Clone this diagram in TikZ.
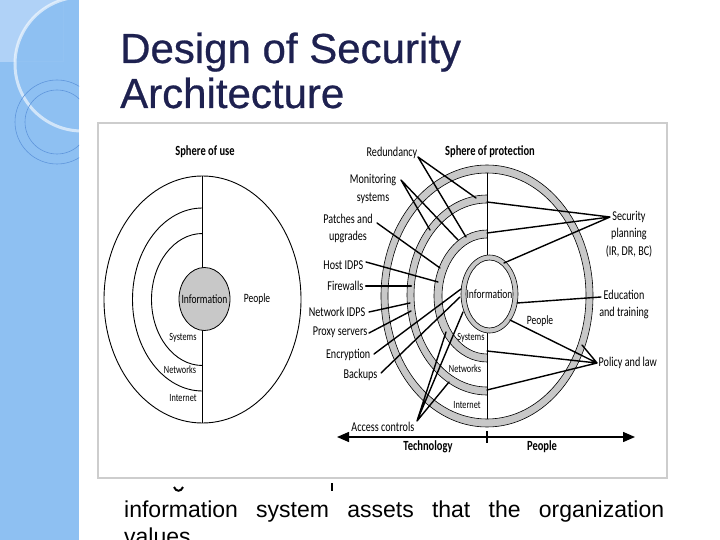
\documentclass[tikz,border=0pt]{standalone}
\usepackage{fontspec}
\usetikzlibrary{arrows.meta}
\newfontfamily\arialf{Liberation Sans}
\newfontfamily\titlef[FakeBold=0.6]{Liberation Sans}
\newfontfamily\cond[FakeStretch=0.75]{Carlito}
\definecolor{stripblue}{RGB}{142,192,242}
\definecolor{stripl}{RGB}{176,210,247}
\definecolor{thinblue}{RGB}{95,150,220}
\definecolor{titlenavy}{RGB}{30,33,80}
\definecolor{bandgray}{RGB}{200,200,200}
\definecolor{boxgray}{RGB}{205,205,205}
\begin{document}
\begin{tikzpicture}[x=1pt,y=-1pt,
  lbl/.style={font=\cond\fontsize{13.5}{17.5}\selectfont, inner sep=0.5pt, align=center},
  sml/.style={font=\cond\fontsize{11}{12}\selectfont, inner sep=0.5pt},
  mid/.style={font=\cond\fontsize{12.7}{13}\selectfont, inner sep=0.5pt},
  hd/.style={font=\cond\bfseries\fontsize{14}{15}\selectfont, inner sep=0.5pt},
  conn/.style={line width=1.4pt, line cap=round},
  band/.style={fill=bandgray, draw=black, line width=0.6pt, even odd rule},
  thin/.style={line width=0.9pt},
  ttl/.style={anchor=base west, inner sep=0, text=titlenavy, font=\titlef\fontsize{42}{46}\selectfont},
  body/.style={anchor=base west, inner sep=0, font=\arialf\fontsize{23}{27}\selectfont}]
\useasboundingbox (0,0) rectangle (720,540);
\fill[white] (0,0) rectangle (720,540);
% ---- left decorative strip
\fill[stripblue] (0,0) rectangle (79,540);
\begin{scope}
  \clip (0,0) rectangle (63,62);
  \fill[stripl, even odd rule] (0,0) rectangle (63,62) (82,64) circle (67);
\end{scope}
\begin{scope}
  \clip (0,0) rectangle (79,540);
  \draw[white, opacity=0.6, line width=3pt] (82,64) circle (67);
  \draw[thinblue, line width=0.6pt] (57,122) circle (42) (57,122) circle (32);
\end{scope}
% ---- title
\node[ttl] (t1) at (120,63) {Design of Security};
\node[ttl] (t2) at (120,108) {Architecture};
% ---- body text
\draw[line width=2pt] (174,487) .. controls (176,492) and (181,492) .. (183,487);
\draw[line width=1.6pt] (332,483) -- (332,491);
\node[body] (b1) at (124,517) {\hbox to 540pt{information\hfill system\hfill assets\hfill that\hfill the\hfill organization}};
\node[body] (b2) at (124,544) {values};
% ---- picture box
\draw[boxgray, line width=1.5pt, fill=white] (98,123) rectangle (667,478);
% ---- sphere of use
\node[hd] (su) at (205,152) {Sphere of use};
\draw[thin] (202.5,299.5) ellipse [x radius=98.5, y radius=123.5];
\begin{scope}
  \clip (90,150) rectangle (202.5,440);
  \draw[thin] (202.5,299.5) ellipse [x radius=70, y radius=91.5];
  \draw[thin] (202.5,299.5) ellipse [x radius=51, y radius=66];
\end{scope}
\draw[line width=1.2pt] (202.5,176) -- (202.5,423);
\filldraw[fill=bandgray, draw=black, line width=0.8pt] (204.5,299) ellipse [x radius=25.5, y radius=31.5];
\node[mid] (linfo) at (204.5,299) {Information};
\node[mid] (lpeople) at (257,299) {People};
\node[sml] (lsys) at (183,338) {Systems};
\node[sml] (lnet) at (180,370) {Networks};
\node[sml] (lint) at (183,398) {Internet};
% ---- sphere of protection
\node[hd] (sp) at (490,152) {Sphere of protection};
\path[band] (487,296) ellipse [x radius=106, y radius=131] (487,296) ellipse [x radius=99, y radius=123];
\begin{scope}
  \clip (370,150) rectangle (487,440);
  \path[band] (487,295) ellipse [x radius=80, y radius=100] (487,295) ellipse [x radius=73, y radius=92];
  \path[band] (487,296) ellipse [x radius=53, y radius=66] (487,296) ellipse [x radius=45, y radius=58];
\end{scope}
\draw[line width=1pt] (487,173) -- (487,256) (487,332) -- (487,419);
\path[band] (489.5,294) ellipse [x radius=28.5, y radius=39] (489.5,294) ellipse [x radius=23.5, y radius=34];
\node[mid] (rinfo) at (489.5,294) {Information};
\node[mid] (rpeople) at (540,321) {People};
\node[sml] (rsys) at (471,338) {Systems};
\node[sml] (rnet) at (465,369) {Networks};
\node[sml] (rint) at (467,405) {Internet};
% ---- labels
\node[lbl, anchor=east] (red) at (418,153) {Redundancy};
\node[lbl] (mon) at (373,189) {Monitoring\\systems};
\node[lbl] (pat) at (348,228.5) {Patches and\\upgrades};
\node[lbl, anchor=east] (host) at (364,265) {Host IDPS};
\node[lbl, anchor=east] (fire) at (364,286) {Firewalls};
\node[lbl, anchor=east] (nids) at (366,312) {Network IDPS};
\node[lbl, anchor=east] (prox) at (368,332) {Proxy servers};
\node[lbl, anchor=east] (enc) at (371,355) {Encryption};
\node[lbl, anchor=east] (back) at (378,375) {Backups};
\node[lbl, anchor=east] (acc) at (415,427) {Access controls};
\node[lbl] (sec) at (629,234) {Security\\planning\\(IR, DR, BC)};
\node[lbl] (edu) at (624,304.5) {Education\\and training};
\node[lbl, anchor=west] (pol) at (598,363) {Policy and law};
% ---- connector points
\coordinate (redS) at (418,157);
\coordinate (redA) at (476,198);
\coordinate (redB) at (466,237);
\coordinate (monS) at (401,180);
\coordinate (monA) at (430,230);
\coordinate (monB) at (458,240);
\coordinate (patS) at (377,223);
\coordinate (patE) at (440,268);
\coordinate (hostS) at (366,262);
\coordinate (hostE) at (438,282);
\coordinate (fireS) at (366,286);
\coordinate (fireE) at (411,286);
\coordinate (nidsS) at (369,312);
\coordinate (nidsE) at (410,303);
\coordinate (proxS) at (369,333);
\coordinate (proxE) at (411,311);
\coordinate (encS) at (374,354);
\coordinate (encE) at (461,289);
\coordinate (backS) at (381,373);
\coordinate (backE) at (460,297);
\coordinate (accS) at (417,421);
\coordinate (accA) at (446,332);
\coordinate (accB) at (463,312);
\coordinate (accC) at (449,382);
\coordinate (secS) at (610,217);
\coordinate (secA) at (487,202);
\coordinate (secB) at (487,233);
\coordinate (secC) at (504,263);
\coordinate (eduS) at (601,297);
\coordinate (eduE) at (517,303);
\coordinate (polS) at (597,363);
\coordinate (polA) at (510,320);
\coordinate (polB) at (487,351);
\coordinate (polC) at (487,390);
\coordinate (polD) at (582,345);
% ---- connectors
\draw[conn] (redS) -- (redA) (redS) -- (redB);
\draw[conn] (monS) -- (monA) (monS) -- (monB);
\draw[conn] (patS) -- (patE);
\draw[conn] (hostS) -- (hostE);
\draw[conn, line width=2.4pt] (fireS) -- (fireE);
\draw[conn] (nidsS) -- (nidsE);
\draw[conn] (proxS) -- (proxE);
\draw[conn] (encS) -- (encE);
\draw[conn] (backS) -- (backE);
\draw[conn] (accS) -- (accA) (accS) -- (accB) (accS) -- (accC);
\draw[conn] (secS) -- (secA) (secS) -- (secB) (secS) -- (secC);
\draw[conn] (eduS) -- (eduE);
\draw[conn] (polS) -- (polA) (polS) -- (polB) (polS) -- (polC) (polS) -- (polD);
% ---- axis
\coordinate (axL) at (337,437);
\coordinate (axR) at (635,437);
\coordinate (tkT) at (487,431);
\coordinate (tkB) at (487,443);
\draw[conn, {Triangle[length=12pt,width=10pt]}-{Triangle[length=12pt,width=10pt]}] (axL) -- (axR);
\draw[conn, line cap=butt] (tkT) -- (tkB);
\node[hd] (tech) at (428,447) {Technology};
\node[hd] (ppl) at (542,447) {People};
\end{tikzpicture}
\end{document}
